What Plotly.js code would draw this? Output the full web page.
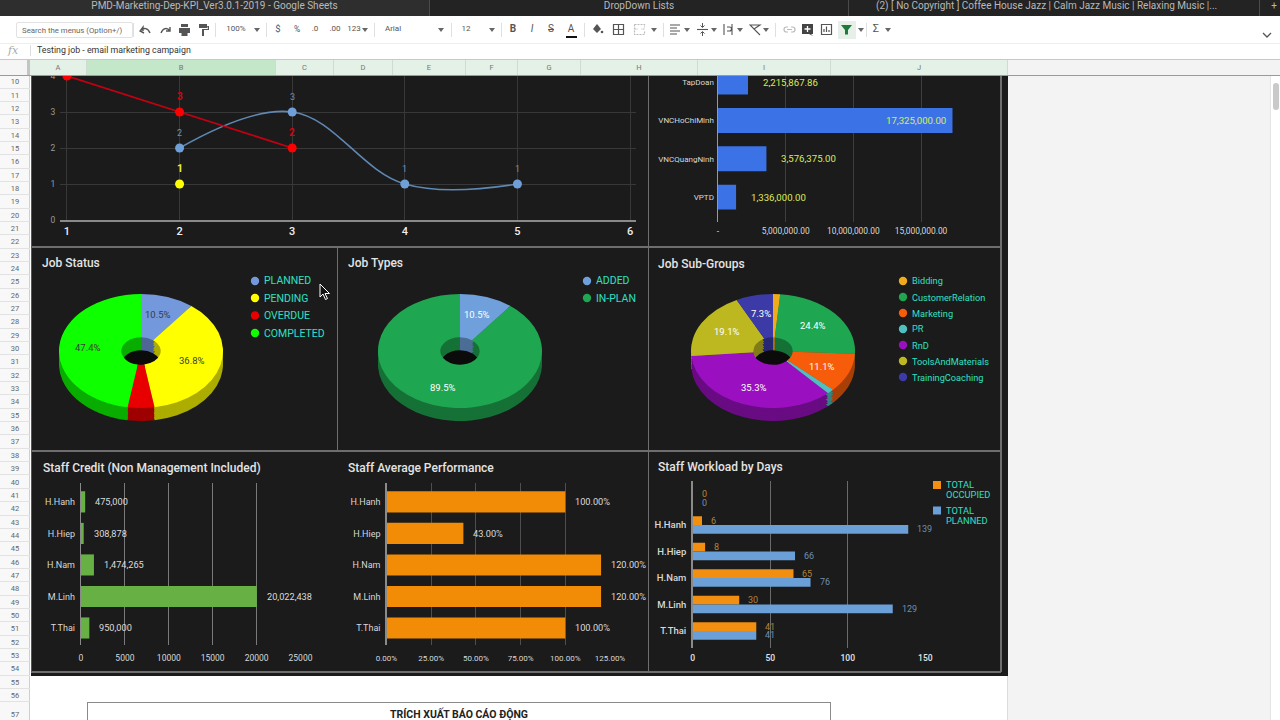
<!DOCTYPE html>
<html><head><meta charset="utf-8">
<script src="https://cdn.plot.ly/plotly-3.0.1.min.js"></script>
<style>
html,body{margin:0;padding:0;width:1280px;height:720px;overflow:hidden;background:#fff;font-family:Roboto,Arial,sans-serif}
.a{position:absolute;white-space:nowrap}
#main{position:absolute;left:0;top:0;width:1280px;height:720px;z-index:5}
#chrome{position:absolute;left:0;top:0;width:1280px;height:76px;z-index:10;background:#fff;overflow:hidden}
#back{position:absolute;left:0;top:0;width:1280px;height:720px;z-index:1}
#pies{position:absolute;left:0;top:0;width:1280px;height:720px;z-index:2}
</style></head><body>
<div id="back"></div><div id="pies"></div><div id="main"></div><div id="chrome"></div>
<svg class="a" style="left:319px;top:283px;z-index:20" width="12" height="18" viewBox="0 0 12 18"><path d="M1 1 L1 14 L4 11 L6.5 16.5 L8.5 15.5 L6 10.5 L10.5 10.5 Z" fill="#111" stroke="#fff" stroke-width="1"/></svg>
<script>
// ---------- data ----------
const lineX=[1,2,3,4,5,6];
const addedX=[2,3,4,5], addedY=[2,3,1,1];
const overdueX=[1,2,3], overdueY=[4,3,2];
const pendingX=[2], pendingY=[1];

const unitCats=["TapDoan","VNCHoChiMinh","VNCQuangNinh","VPTD"];
const unitVals=[2215867.86,17325000,3576375,1336000];
const unitTickVals=[0,5000000,10000000,15000000,20000000];
const unitTickText=["-","5,000,000.00","10,000,000.00","15,000,000.00",""];

const statusLabels=["PLANNED","PENDING","OVERDUE","COMPLETED"];
const statusVals=[2,7,1,9];
const statusColors=["#7398dc","#ffff00","#e80000","#0dff00"];
const typeLabels=["ADDED","IN-PLAN"];
const typeVals=[2,17];
const typeColors=["#6fa0dc","#1fa650"];
const subLabels=["Bidding","CustomerRelation","Marketing","PR","RnD","ToolsAndMaterials","TrainingCoaching"];
const subVals=[1.4,24.4,11.1,1.4,35.3,19.1,7.3];
const subColors=["#f0aa1a","#1fa650","#f65c0a","#4fbfc0","#9a10c0","#bdb820","#3b3aa6"];

const staff=["H.Hanh","H.Hiep","H.Nam","M.Linh","T.Thai"];
const creditVals=[475000,308878,1474265,20022438,950000];
const creditTicks=[0,5000,10000,15000,20000,25000];
const perfVals=[100,43,120,120,100];
const perfTicks=[0,25,50,75,100,125];
const loadCats=[" ","H.Hanh","H.Hiep","H.Nam","M.Linh","T.Thai"];
const occupiedVals=[0,6,8,65,30,41];
const plannedVals=[0,139,66,76,129,41];
const loadTicks=[0,50,100,150];

const titles=[["Job Status",42,263],["Job Types",348,263],["Job Sub-Groups",658,264],
 ["Staff Credit (Non Management Included)",43,468],["Staff Average Performance",348,468],["Staff Workload by Days",658,467]];
const colNames=["A","B","C","D","E","F","G","H","I","J"];
const colEdges=[30,87,276,334,393,466,518,581,698,831,1008];

// ---------- page background ----------
const W=1280,H=720;
function box(parent,l,t,w,h,css,txt){const d=document.createElement('div');d.className='a';
 d.style.cssText+=`left:${l}px;top:${t}px;width:${w}px;height:${h}px;`+(css||'');if(txt!==undefined)d.textContent=txt;parent.appendChild(d);return d;}
const back=document.getElementById('back');
box(back,1008,0,262,720,'background:#f3f3f3');
box(back,1270,0,10,720,'background:#fff;border-left:1px solid #e4e4e4');
box(back,1273,83,6,27,'background:#c9c9c9;border-radius:3px');
box(back,0,76,30,644,'background:#f8f8f8;border-right:1px solid #cfcfcf;box-sizing:border-box');
for(let n=10;n<=56;n++){const y=82+13.34*(n-10);
 box(back,0,y-6.7,30,13.34,'font-size:7.5px;line-height:13.34px;color:#666;text-align:center;border-bottom:1px solid #e2e2e2;box-sizing:border-box',String(n));}
box(back,0,703,30,17,'font-size:7.5px;line-height:24px;color:#666;text-align:center','57');
box(back,1007,676,1,44,'background:#dcdcdc');
box(back,31,75,977,601,'background:#1b1b1b');
const rule='background:#6e6e6e';
box(back,31,246,970,2,rule);box(back,31,450,970,2,rule);box(back,31,671,970,2,rule);
box(back,336.5,247,1.5,204,rule);box(back,647.5,76,1.5,596,rule);box(back,1000,76,1.5,596,rule);
box(back,31,76,1,596,'background:#555');
box(back,87,702,744,18,'background:#fff;border:1px solid #8a8a8a;border-bottom:none;box-sizing:border-box');
box(back,87,708,744,14,'font-size:10.5px;font-weight:700;color:#222;text-align:center;line-height:14px','TRÍCH XUẤT BÁO CÁO ĐỘNG');

// ---------- spreadsheet chrome ----------
const ch=document.getElementById('chrome');
box(ch,0,0,1280,16,'background:#232323');
box(ch,429,0,1,16,'background:#4a4a4a');box(ch,848,0,1,16,'background:#4a4a4a');box(ch,1259,0,1,16,'background:#4a4a4a');
box(ch,0,0,429,16,'background:#2e2e2e');
const tab='font-size:10px;line-height:12px;color:#b9b9b9;text-align:center;';
box(ch,0,0,429,12,tab,'PMD-Marketing-Dep-KPI_Ver3.0.1-2019 - Google Sheets');
box(ch,430,0,418,12,tab,'DropDown Lists');
box(ch,876,0,340,12,tab,'(2) [ No Copyright ] Coffee House Jazz | Calm Jazz Music | Relaxing Music |...');
box(ch,1268,0,12,12,tab,'+');
box(ch,16,22,117,16,'border:1px solid #e2e2e2;border-radius:2px;box-sizing:border-box;font-size:7.8px;line-height:15px;color:#666;padding-left:5px','Search the menus (Option+/)');
const tools=[[236,'100%',8],[278,'$',9.5],[297,'%',8.5],[315,'.0',8],[335,'.00',8],[354,'123',8],
 [393,'Arial',8],[466,'12',8],[513,'B',10],[532,'I',10],[551,'S',10],[571,'A',10],[876,'Σ',11]];
box(ch,838,21,18,18,'background:#e6f0e8');
for(const [x,t,s] of tools){const st=t==='B'?'font-weight:700;':t==='I'?'font-style:italic;':t==='S'?'text-decoration:line-through;':'';
 box(ch,x-15,20,30,18,`text-align:center;line-height:18px;color:#555;font-size:${s}px;${st}`,t);}
for(const x of [257,365,441,492,654,687,714,740,766,861,888])box(ch,x-3,28,6,4,'background:#666;clip-path:polygon(0 0,100% 0,50% 100%)');
box(ch,566,35.5,11,2,'background:#111');
for(const x of [133,215,266,374,451,501,584,663,775,866])box(ch,x,23,1,14,'background:#e0e0e0');
const icons={
 145:'<path d="M4 8 L4 4 L1 8 L5 10 M1 8 C5 4 9 5 11 10" fill="none" stroke="#555" stroke-width="1.4"/>',
 165:'<path d="M11 4 L11 8 L7 8 M11 8 C8 4 4 5 2 10" fill="none" stroke="#555" stroke-width="1.4"/>',
 184:'<path d="M3 1h7v3H3zM1 5h11v5H9.5v3h-6v-3H1z" fill="#555"/>',
 203:'<path d="M2 1h8v4H2zM10 3h2v4H7v6H5V6h6z" fill="#555"/>',
 597:'<path d="M6 1 L10 6 L6 10 L2 6Z" fill="#555"/><circle cx="11" cy="9" r="1.3" fill="#555"/>',
 618:'<path d="M1.5 1.5h10v10h-10zM6.5 1.5v10M1.5 6.5h10" fill="none" stroke="#555" stroke-width="1.2"/>',
 639:'<path d="M1.5 1.5h10v3M1.5 1.5v10h10v-3M11.5 6H8M1.5 6H5" fill="none" stroke="#bbb" stroke-width="1.2" stroke-dasharray="2 1"/>',
 675:'<path d="M1 2h10M1 5h7M1 8h10M1 11h7" stroke="#555" stroke-width="1.1"/>',
 702:'<path d="M1 6.5h11" stroke="#555" stroke-width="1.1"/><path d="M6.5 0v4M4.5 2.5l2 2 2-2M6.5 13V9M4.5 10.5l2-2 2 2" fill="none" stroke="#555"/>',
 728:'<path d="M2 1v11M10 1v11M5 4h2.5a2 2 0 0 1 0 4H5" fill="none" stroke="#555" stroke-width="1.1"/>',
 755:'<path d="M1 2h10L5 6zM5 6l6 6" fill="none" stroke="#555" stroke-width="1.1"/>',
 789:'<path d="M5 4H3.5a2.5 2.5 0 0 0 0 5H5M8 4h1.5a2.5 2.5 0 0 1 0 5H8M4 6.5h5" fill="none" stroke="#bbb" stroke-width="1.2"/>',
 807:'<path d="M1 1h11v10h-2l2 2-4-2H1z" fill="#444"/><path d="M6.5 3v6M3.5 6h6" stroke="#fff" stroke-width="1.3"/>',
 826:'<path d="M1.5 1.5h10v10h-10z" fill="none" stroke="#555" stroke-width="1.2"/><path d="M4 9V6M6.5 9V3.5M9 9V7" stroke="#555" stroke-width="1.2"/>',
 846:'<path d="M1 2h11L8 7v4.5H5V7z" fill="#1c7a3a"/>'};
for(const x in icons){const s=document.createElementNS('http://www.w3.org/2000/svg','svg');
 s.setAttribute('class','a');s.setAttribute('viewBox','0 0 13 13');s.setAttribute('width',13);s.setAttribute('height',13);
 s.style.cssText=`left:${x-6.5}px;top:23px`;s.innerHTML=icons[x];ch.appendChild(s);}
box(ch,1262,25,10,10,'');
ch.lastChild.innerHTML='<svg width="10" height="10"><path d="M1 3l4 4 4-4" fill="none" stroke="#555" stroke-width="1.3"/></svg>';
box(ch,0,43,1280,1,'background:#eee');
box(ch,8,44,16,14,'font:italic 11px "DejaVu Serif",serif;color:#aaa;line-height:14px','fx');
box(ch,30,45,1,11,'background:#ddd');
box(ch,37,44,500,13,'font-size:8.8px;line-height:13px;color:#333','Testing job - email marketing campaign');
box(ch,0,59,1280,1,'background:#c8c8c8');
box(ch,0,60,30,15,'background:#f5f5f5;border-right:3px solid #c4c4c4;box-sizing:border-box');
box(ch,1008,60,272,16,'background:#f3f3f3');
box(ch,0,75,1280,1,'background:#9a9a9a');
colNames.forEach((c,i)=>{const l=colEdges[i],r=colEdges[i+1];
 box(ch,l,60,r-l,15,`box-sizing:border-box;border-right:1px solid #cfdcd2;background:${c==='B'?'#c4e6c9':'#e3f1e6'};font-size:7.5px;line-height:15px;color:#777;text-align:center`,c);});

// ---------- pies (real pie traces, tilted and stacked) ----------
const pies=[{vals:statusVals,cols:statusColors,cx:141,txt:"#3c3c3c"},{vals:typeVals,cols:typeColors,cx:460,txt:"#ffffff"},{vals:subVals,cols:subColors,cx:773,txt:"#ffffff"}];
const TILT=0.695,CY=351,R=82,DEPTH=13;
function shade(hex,f){const n=parseInt(hex.slice(1),16);const c=[n>>16,(n>>8)&255,n&255].map(v=>Math.round(v*f));return `rgb(${c.join(',')})`;}
const piesDiv=document.getElementById('pies');
pies.forEach(p=>{
 box(piesDiv,p.cx-20,CY+DEPTH/2-14,40,28,'background:#0b0b0b;border-radius:50%');
 [[1,0.68],[0.8,0.68],[0.6,0.68],[0.4,0.68],[0.2,0.68],[0,1]].forEach(([k,f])=>{
  const d=box(piesDiv,p.cx-R,CY-R+k*DEPTH,2*R,2*R,`transform:scaleY(${TILT});transform-origin:center center;`);
  Plotly.newPlot(d,[{type:'pie',values:p.vals,sort:false,direction:'clockwise',rotation:0,hole:0.24,textinfo:'none',hoverinfo:'skip',showlegend:false,
    marker:{colors:p.cols.map(c=>f===1?c:shade(c,f)),line:{width:0}},domain:{x:[0,1],y:[0,1]}}],
   {width:2*R,height:2*R,margin:{l:0,r:0,t:0,b:0},paper_bgcolor:'rgba(0,0,0,0)',showlegend:false},{staticPlot:true,displayModeBar:false});
 });
});

// ---------- main figure ----------
const px=x=>x/W, py=y=>1-y/H;
const GRAY="#d8d8d8",FONT="Roboto, Arial, sans-serif";
const ann=[],shapes=[],traces=[];
function label(x,y,text,color,size,anchor,extra){ann.push(Object.assign({xref:'paper',yref:'paper',x:px(x),y:py(y),text,showarrow:false,xanchor:anchor||'left',yanchor:'middle',
  font:{family:FONT,size:size||10,color},borderpad:0,borderwidth:0},extra||{}));}
function dataLabel(ax,x,y,text,color,size,opt){ann.push(Object.assign({xref:'x'+ax,yref:'y'+ax,x,y,text,showarrow:false,xanchor:'left',yanchor:'middle',
  font:{family:FONT,size:size||9.5,color}},opt||{}));}
function axes(n,l,r,t,b,xa,ya){const o={};
 o['xaxis'+n]=Object.assign({domain:[px(l),px(r)],anchor:'y'+n,fixedrange:true,zeroline:false,showline:false,ticks:'outside',tickcolor:'rgba(0,0,0,0)',ticklen:5,
   tickfont:{family:FONT,size:8.5,color:GRAY}},xa);
 o['yaxis'+n]=Object.assign({domain:[py(b),py(t)],anchor:'x'+n,fixedrange:true,zeroline:false,ticks:'outside',tickcolor:'rgba(0,0,0,0)',ticklen:3,showgrid:false,
   tickfont:{family:FONT,size:9,color:GRAY}},ya);
 return o;}

// 1: job timeline
traces.push({type:'scatter',mode:'lines+markers',x:addedX,y:addedY,xaxis:'x1',yaxis:'y1',line:{color:'#5f88b4',width:1.6,shape:'spline',smoothing:1.1},marker:{color:'#6f9fd8',size:9},cliponaxis:false});
traces.push({type:'scatter',mode:'lines+markers',x:overdueX,y:overdueY,xaxis:'x1',yaxis:'y1',line:{color:'#c40012',width:1.8},marker:{color:'#ff0000',size:9},cliponaxis:false});
traces.push({type:'scatter',mode:'markers',x:pendingX,y:pendingY,xaxis:'x1',yaxis:'y1',marker:{color:'#ffff00',size:9},cliponaxis:false});
addedX.forEach((x,i)=>dataLabel(1,x,addedY[i],String(addedY[i]),'#6f8fb4',9,{xanchor:'center',yshift:15}));
overdueX.forEach((x,i)=>{if(overdueY[i]<4)dataLabel(1,x,overdueY[i],String(overdueY[i]),'#d80010',10,{xanchor:'center',yshift:15,font:{family:FONT,size:10,color:'#d80010',weight:700}});});
pendingX.forEach((x,i)=>dataLabel(1,x,pendingY[i],String(pendingY[i]),'#eeee30',10.5,{xanchor:'center',yshift:15,font:{family:FONT,size:10.5,color:'#eeee30',weight:700}}));
// 2: unit amounts
traces.push({type:'bar',orientation:'h',y:unitCats,x:unitVals,xaxis:'x2',yaxis:'y2',marker:{color:'#3b73e6'},width:0.65});
unitCats.forEach((c,i)=>{const inside=unitVals[i]>15000000;
 const t=Number(unitVals[i]).toLocaleString('en-US',{minimumFractionDigits:2});
 dataLabel(2,unitVals[i],c,t,'#dcea5a',9.6,inside?{xanchor:'right',xshift:-4}:{xshift:13});});
// 3: credit
traces.push({type:'bar',orientation:'h',y:staff,x:creditVals.map(v=>v/1000),xaxis:'x3',yaxis:'y3',marker:{color:'#67b044'},width:0.67});
staff.forEach((c,i)=>dataLabel(3,creditVals[i]/1000,c,creditVals[i].toLocaleString('en-US'),'#dcdcdc',9.2,{xshift:8}));
// 4: performance
traces.push({type:'bar',orientation:'h',y:staff,x:perfVals,xaxis:'x4',yaxis:'y4',marker:{color:'#f28b05'},width:0.67});
staff.forEach((c,i)=>dataLabel(4,perfVals[i],c,perfVals[i].toFixed(2)+'%','#dcdcdc',9.2,{xshift:8}));
// 5: workload
traces.push({type:'bar',orientation:'h',y:loadCats,x:occupiedVals,xaxis:'x5',yaxis:'y5',marker:{color:'#f28f10'},name:'TOTAL OCCUPIED',offsetgroup:'a'});
traces.push({type:'bar',orientation:'h',y:loadCats,x:plannedVals,xaxis:'x5',yaxis:'y5',marker:{color:'#6a9fd8'},name:'TOTAL PLANNED',offsetgroup:'b'});
loadCats.forEach((c,i)=>{
 dataLabel(5,occupiedVals[i],c,String(occupiedVals[i]),'#b78238',9,{xshift:7,yshift:4.4});
 dataLabel(5,plannedVals[i],c,String(plannedVals[i]),'#6f8fb0',9,{xshift:7,yshift:-4.4});});

const layout=Object.assign({width:W,height:H,margin:{l:0,r:0,t:0,b:0},paper_bgcolor:'rgba(0,0,0,0)',plot_bgcolor:'rgba(0,0,0,0)',showlegend:false,
  barmode:'group',bargap:0.34,bargroupgap:0,font:{family:FONT}},
 axes(1,60,636,76,220,{range:[0.938,6.053],tickvals:lineX,showgrid:true,gridcolor:'#383838',gridwidth:1,showline:true,linecolor:'#8a8a8a',linewidth:1.5,tickfont:{family:FONT,size:11,color:'#eeeeee',weight:500},ticklen:0},
   {range:[0,4],tickvals:[0,1,2,3,4],showgrid:true,gridcolor:'#383838',tickfont:{family:FONT,size:8.5,color:'#9a9a9a'},ticklen:2}),
 axes(2,718,988.7,76,222,{range:[0,20000000],tickvals:unitTickVals,ticktext:unitTickText,showgrid:true,gridcolor:'#3e3e3e',ticklen:1,tickfont:{family:FONT,size:8.4,color:GRAY}},
   {type:'category',categoryorder:'array',categoryarray:unitCats,range:[3.65,-0.16],showline:true,linecolor:'#999',linewidth:1.5,ticklen:1,tickfont:{family:FONT,size:8,color:GRAY}}),
 axes(3,81,300.5,483,645,{range:[0,25000],tickvals:creditTicks,tickformat:'d',showgrid:true,gridcolor:'#7a7a7a'},
   {type:'category',categoryorder:'array',categoryarray:staff,range:[4.54,-0.6],showline:true,linecolor:'#8a8a8a',linewidth:1.2}),
 axes(4,386.5,610,483,645,{range:[0,125],tickvals:perfTicks,ticktext:perfTicks.map(v=>v.toFixed(2)+'%'),showgrid:true,gridcolor:'#4e4e4e',tickfont:{family:FONT,size:8,color:GRAY}},
   {type:'category',categoryorder:'array',categoryarray:staff,range:[4.54,-0.6],showline:true,linecolor:'#8a8a8a',linewidth:1.2}),
 axes(5,692.7,925.3,481,648,{range:[0,150],tickvals:loadTicks,ticklen:2,showgrid:true,gridcolor:'#6a6a6a',tickfont:{family:FONT,size:8.5,color:'#e6e6e6',weight:500}},
   {type:'category',categoryorder:'array',categoryarray:loadCats,range:[5.64,-0.66],showline:true,linecolor:'#8a8a8a',linewidth:1.5,tickfont:{family:FONT,size:9.5,color:GRAY,weight:500}}));

// chart titles
titles.forEach(([t,x,y])=>label(x,y,t,'#e4e4e4',12,'left',{font:{family:FONT,size:12,color:'#e4e4e4',weight:500}}));
// pie percent labels, placed from the values
pies.forEach(p=>{const sum=p.vals.reduce((a,b)=>a+b,0);let acc=0;
 p.vals.forEach(v=>{const share=v/sum,mid=(acc+share/2)*2*Math.PI;acc+=share;
  if(share>0.06)label(p.cx+53*Math.sin(mid),CY-56*TILT*Math.cos(mid),(share*100).toFixed(1)+'%',p.txt,9.5,'center');});});
// hand legends
const TEAL='#2fe0c4';
function legend(names,cols,mx,ys){names.forEach((n,i)=>{
 shapes.push({type:'circle',xref:'paper',yref:'paper',x0:px(mx-4.2),x1:px(mx+4.2),y0:py(ys[i]-4.2),y1:py(ys[i]+4.2),fillcolor:cols[i],line:{width:0}});
 label(mx+9,ys[i],n,TEAL,names.length>4?9.2:10.5,'left');});}
legend(statusLabels,statusColors,255,[281,298,315.5,333]);
legend(typeLabels,typeColors,587,[281,298]);
legend(subLabels,subColors,903,[281,297,313,329,345,361,377]);
[["TOTAL","OCCUPIED",'#f28f10',485,484],["TOTAL","PLANNED",'#6a9fd8',510.5,510]].forEach(([a,b,c,my,ty])=>{
 shapes.push({type:'rect',xref:'paper',yref:'paper',x0:px(933),x1:px(941),y0:py(my-4),y1:py(my+4),fillcolor:c,line:{width:0}});
 label(946,ty,a,TEAL,9.3,'left');label(946,ty+10,b,TEAL,9.3,'left');});
layout.annotations=ann;layout.shapes=shapes;
Plotly.newPlot('main',traces,layout,{staticPlot:true,displayModeBar:false});
</script></body></html>
